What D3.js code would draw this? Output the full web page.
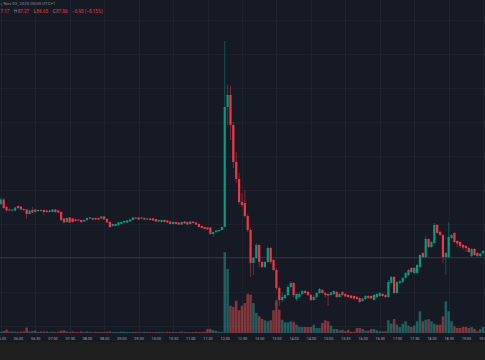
<!DOCTYPE html>
<html>
<head>
<meta charset="utf-8">
<script src="https://cdn.jsdelivr.net/npm/d3@7"></script>
<style>
  html, body { margin: 0; padding: 0; background: #161a25; overflow: hidden; }
  svg { display: block; }
</style>
</head>
<body>
<svg id="chart" width="485" height="360"></svg>
<script>
// ---------- DATA (5-minute candles starting 05:30) ----------
const startTime = "2025-11-03 05:30";
const intervalMinutes = 5;

const opens = [196,200.5,193,190.5,189.5,189.5,194,193.5,191,190.5,186,190,188,190,189,190,189.5,188,188,190.5,189.5,188,181.5,178,182.5,181.5,180.5,180.5,180,178.5,180,182.5,180.5,182,182,181.5,183.5,181,178,174,174,175,176,177.5,177.5,178.5,180,182.5,182.5,181.5,182,180.5,181.5,181.5,181,178.5,178,180,179.5,178.5,176,178,177.5,175.5,178.5,178,176,178.5,177.5,176,174,173,172.5,172.5,166,168,169,170,
173,293,305,275,238,221,198,197,184,170,137,142,155,138,133,138,152,140,130,112,100,102,105,113,117,101,103,106,109,108,105,100,103,107,110,107,106,105,106,108,103,108,106,105,104.5,104,103,102,99,101,104,104,100,103,104,106,105,103,117,123,107,117,118,122,125,132,127,127,133,147,143,161,153,157,175,168,165,143,143,162,167,159,158,155,154,152,144,151,147,144,147];
const closes = [200.5,192,189.5,189.5,190.5,192.5,192,190.5,190,186,189.5,187.5,190.5,189,190,188,188,189.5,190.5,188,187.5,180,177.5,182,177.5,178,179,179.5,178,180,182,181.5,182,180.5,180.5,183.5,180.5,177.5,173,176,176,177.5,178,179,179.5,180.5,182.5,181.5,180.5,182.5,180.5,181.5,180,179.5,178.5,180,180,178,177.5,176,178,176,175.5,178,176.5,175.5,178.5,177,175.5,173,172,171,170.5,166,168,169.5,170,173,
293,305,275,238,221,198,195,184,170,137,142,155,138,133,138,152,138,130,112,100,103,105,113,117,105,106,106,109,107,105,100,103,107,111,107,105,104.5,107.5,109,103,106,105,103.5,103,102,101.5,101,98,101.5,104,102,101.5,105,106,107,104,103,118,123,107,118,118.5,122,127,130,128,132,135,145,143,161,153,158,175,167,165,143,147,163,165,158,156.5,154,152.5,152,148,151,145,144,146.5,149];
const highs = [202,201.5,194,191.5,191,193,194.5,194,191.5,191,190.5,193,191,190.5,191,190.5,190,190,191,191,190,188.5,182,182.5,183,182,181,181,180.5,180.5,182.5,183,182.5,182.5,182.5,184,184,181.5,178.5,176.5,176.5,178,178.5,179.5,180,181,183,183,183,183,182.5,182,182,182,181.5,180.5,180.5,180.5,180,179,178.5,178.5,178,178.5,179,178.5,179,179,178,176.5,174.5,173.5,173,173,168.5,170,170.5,173.5,
359,315,314,278,248,227,207,210,186,172,143,157,156,139,139,154,153,141,132,114,108,106,115,119,118,107,108,110,110,109,106,105,108,112,111,108,107,108,110,109,107,109,107,106,105,104.5,104,103,102,105,105,104.5,106,107,108,107,106,120,124,124,119,120,123,128,131,133,133,136,146,148,164,162,159,177,176,169,166,148,178,166,168,160,159,156,155,153,152,152,148,147,150];
const lows = [195,191,188.5,189,188.5,189,191,190,189,181,185.5,187,187.5,188,188.5,185,187,187.5,187.5,187,186.5,179,176.5,177.5,177,177.5,178.5,178.5,177,178,179.5,181,180,180,179.5,181,180,177,172,173.5,173.5,174.5,175.5,177,177,178,179.5,181,180,181,180,180,179.5,179,178,178,177.5,177.5,177,175.5,175.5,175.5,175,175,176,175,175.5,176.5,175,172.5,171.5,170.5,170,165,163,167,168.5,169.5,
172.5,275,260,232,217,196,193,182,168,123,125,141,133,132,132,137,136,129,110,94,98,101,104,112,103,99,102,105,106,104,99,99,102,106,106,102,94,104,105,102,102,104,103,102,101,100,100,97,98,100,101,101,99.5,102,103,103,102,102,116,106,106,116,117,121,124,127,126,126,132,142,142,152,152,156,166,164,137,125,142,161,157,153,152,150,148,147,143,144,143,143,145];
const volumes = [1.3,2,3.3,1.3,1.5,1.3,1,1.3,1.5,5.3,1.5,2,2.3,1,1.5,1.3,1.5,1,1.3,1,1.3,2.3,2.7,1.5,1,1.5,1,1,1.5,1,1.5,1,0.8,1,1,1,1,1.3,1.5,1,1,1,1.3,1.3,1,1,1,1,0.8,0.8,1,1,1,0.8,1,1,1,0.8,1,1,1,1,1,1.3,1,1,1,1,1.3,1,1,1.3,4,4,2.7,2,1.3,1,
80.7,64,27.3,26,32.3,22.7,27.3,30,39.3,38.3,30,20,16.7,14,12.7,11.7,12.7,22.7,32.7,23.3,13.3,10.7,10.7,11.7,11.3,8.3,6,6,6,6,6,8.3,5,5,10,12.7,11.7,7.3,4,4,2.7,3.3,1.7,3.3,1.3,1.3,5,5,4,2.3,2.3,4,4,2.7,1.7,1.7,1.7,12.7,9.3,14,8.3,6,9.3,11.7,7.3,6,7.3,11.7,21.7,11.7,13.3,14,11.7,9.3,8.3,8.3,16.7,31.7,21.7,11.7,6.7,5,5,6,6,5,6,4,1.7,4,6];

const tickLabels = ["05:30","06:00","06:30","07:00","07:30","08:00","08:30","09:00","09:30","10:00","10:30","11:00","11:30","12:00","12:30","13:00","13:30","14:00","14:30","15:00","15:30","16:00","16:30","17:00","17:30","18:00","18:30","19:00","19:30"];
const gridPrices = [380,346,312,278,244,210,176,142,108,74];
const lastPrice = 143;
const headerLine1 = "ı, Nov 03, 2025 00:05 UTC+1";
const headerParts = [["","7.17"],["H","87.27"],["L","86.65"],["C","87.06"],["","−6.93 (−8.15%)"]];

// ---------- SETUP ----------
const W = 485, H = 360;
const svg = d3.select("#chart");
const parseFull = d3.timeParse("%Y-%m-%d %H:%M");
const t0 = parseFull(startTime);
const times = opens.map((_, i) => d3.timeMinute.offset(t0, i * intervalMinutes));
const tEnd = parseFull("2025-11-03 19:30");

const GREEN = "#089981", RED = "#f23645";
const VGREEN = "rgba(38,166,154,0.5)", VRED = "rgba(239,83,80,0.5)";

const x = d3.scaleTime().domain([t0, tEnd]).range([0.8, 0.8 + 2.871 * 168]);
const y = d3.scaleLinear().domain([67, 400]).range([333, 0]);
const v = d3.scaleLinear().domain([0, 100]).range([333, 233]);

svg.append("rect").attr("x", 0).attr("y", 0).attr("width", W).attr("height", H).attr("fill", "#161a25");
svg.append("rect").attr("x", 0).attr("y", 342).attr("width", W).attr("height", H - 342).attr("fill", "#1e1e1e");

// grid
const tickTimes = tickLabels.map(s => parseFull("2025-11-03 " + s));
const gridG = svg.append("g");
gridG.selectAll("line.v").data(tickTimes.filter(d => d.getMinutes() === 30)).join("line")
  .attr("x1", d => Math.round(x(d)) + 0.5).attr("x2", d => Math.round(x(d)) + 0.5)
  .attr("y1", 0).attr("y2", 333)
  .attr("stroke", "rgba(255,255,255,0.04)").attr("stroke-width", 1);
gridG.selectAll("line.h").data(gridPrices).join("line")
  .attr("x1", 0).attr("x2", W)
  .attr("y1", d => Math.round(y(d)) + 0.5).attr("y2", d => Math.round(y(d)) + 0.5)
  .attr("stroke", "rgba(255,255,255,0.03)").attr("stroke-width", 1);

const idx = d3.range(opens.length);
const up = i => closes[i] >= opens[i];

// volumes
svg.append("g").selectAll("rect").data(idx).join("rect")
  .attr("x", i => x(times[i]) - 1.25)
  .attr("width", 2.5)
  .attr("y", i => v(volumes[i]))
  .attr("height", i => 333 - v(volumes[i]))
  .attr("fill", i => up(i) ? VGREEN : VRED);

// last price line
svg.append("line").attr("x1", 0).attr("x2", W)
  .attr("y1", Math.round(y(lastPrice)) + 0.5).attr("y2", Math.round(y(lastPrice)) + 0.5)
  .attr("stroke", "rgba(242,54,69,0.28)").attr("stroke-width", 1);

// wicks
svg.append("g").selectAll("line").data(idx).join("line")
  .attr("x1", i => x(times[i])).attr("x2", i => x(times[i]))
  .attr("y1", i => y(highs[i])).attr("y2", i => y(lows[i]))
  .attr("stroke", i => up(i) ? GREEN : RED)
  .attr("stroke-opacity", 0.6)
  .attr("stroke-width", 0.8);

// bodies
svg.append("g").selectAll("rect").data(idx).join("rect")
  .attr("x", i => x(times[i]) - 1.1)
  .attr("width", 2.2)
  .attr("y", i => Math.min(y(opens[i]), y(closes[i])))
  .attr("height", i => Math.max(0.9, Math.abs(y(opens[i]) - y(closes[i]))))
  .attr("fill", i => up(i) ? GREEN : RED);

// time axis
const axis = d3.axisBottom(x).tickValues(tickTimes)
  .tickFormat((d, i) => tickLabels[i]).tickSize(0).tickPadding(4.6);
const ax = svg.append("g").attr("transform", "translate(0,333)").call(axis);
ax.select(".domain").remove();
ax.selectAll("text").attr("fill", "#a3a6af").attr("font-size", "3.8px")
  .attr("font-family", "Roboto, 'DejaVu Sans', sans-serif");

// header
svg.append("text").attr("x", 0.5).attr("y", 5.4).attr("fill", "#8c8f98")
  .attr("font-size", "4.4px").attr("font-family", "Roboto, sans-serif").text(headerLine1);
const ht = svg.append("text").attr("x", 0.5).attr("y", 13.4)
  .attr("font-size", "4.6px").attr("font-family", "Roboto, sans-serif");
headerParts.forEach((p, k) => {
  if (p[0]) ht.append("tspan").attr("fill", "#8c8f98").attr("dx", k ? 4.5 : 0).text(p[0]);
  ht.append("tspan").attr("fill", RED).attr("dx", p[0] ? 0.4 : (k ? 4.5 : 0)).text(p[1]);
});
</script>
</body>
</html>
